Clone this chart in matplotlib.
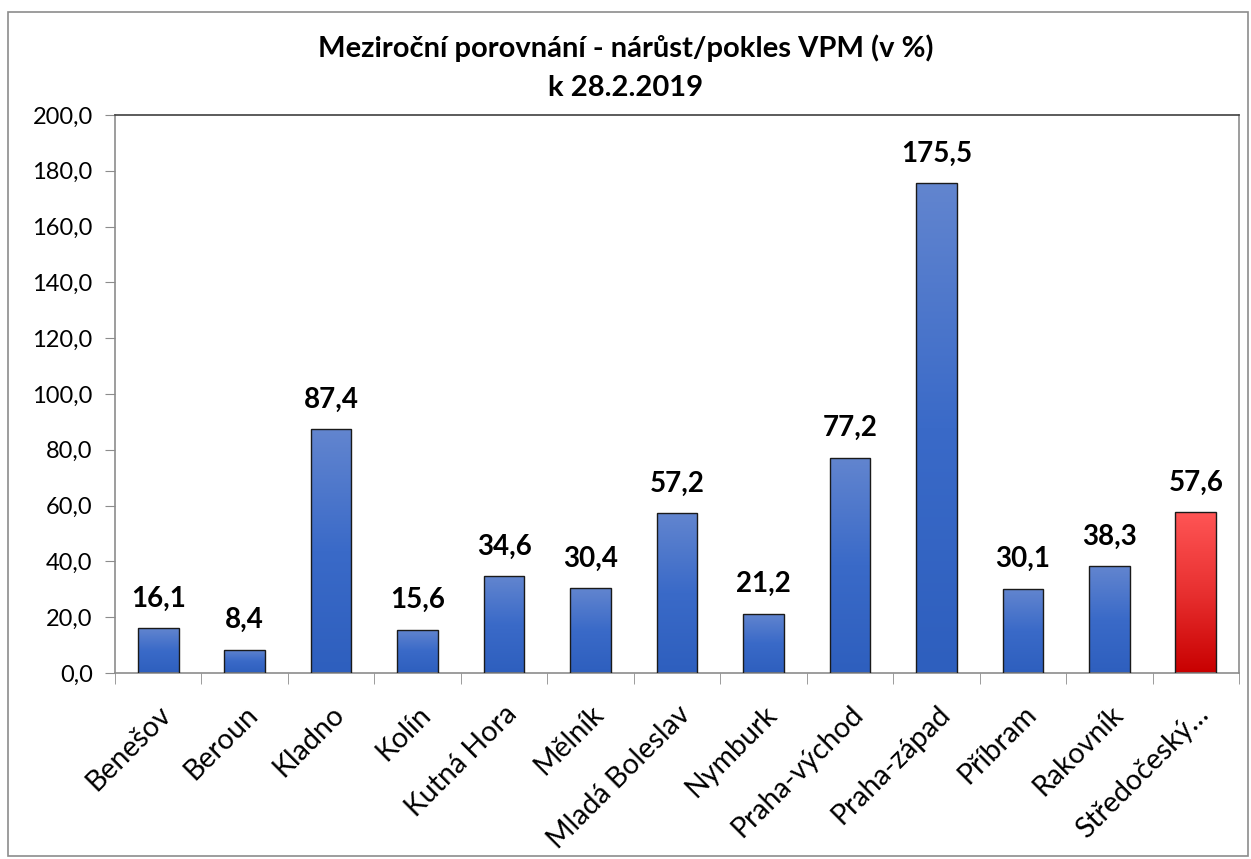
import matplotlib
matplotlib.use("Agg")
import matplotlib.pyplot as plt
import numpy as np
from matplotlib.patches import Rectangle
from matplotlib.colors import LinearSegmentedColormap

categories = ["Benešov", "Beroun", "Kladno", "Kolín", "Kutná Hora", "Mělník",
              "Mladá Boleslav", "Nymburk", "Praha-východ", "Praha-západ",
              "Příbram", "Rakovník", "Středočeský…"]
values = [16.1, 8.4, 87.4, 15.6, 34.6, 30.4, 57.2, 21.2, 77.2, 175.5, 30.1, 38.3, 57.6]
yticks = [0, 20, 40, 60, 80, 100, 120, 140, 160, 180, 200]

plt.rcParams['font.family'] = ['Lato', 'DejaVu Sans']

fig = plt.figure(figsize=(12.51, 8.59), dpi=100)
ax = fig.add_axes([0.0919, 0.2165, 0.8985, 0.6496])

W, H = 1251, 859
fig.patches.append(Rectangle((8 / W, 1 - 856 / H), (1248 - 8) / W, (856 - 12) / H,
                             transform=fig.transFigure, fill=False,
                             edgecolor="#8c8c8c", linewidth=1.2))

blue_cmap = LinearSegmentedColormap.from_list("b", ["#2e5fbe", "#3a6ac8", "#6285cf"])
red_cmap = LinearSegmentedColormap.from_list("r", ["#c80000", "#e83030", "#ff5555"])

x = np.arange(len(categories))
bars = ax.bar(x, values, width=0.47, facecolor="none", edgecolor="#1a1a1a",
              linewidth=1.0, zorder=3)
grad = np.linspace(0, 1, 256).reshape(-1, 1)
for i, b in enumerate(bars):
    cmap = red_cmap if i == len(bars) - 1 else blue_cmap
    x0, y0 = b.get_x(), b.get_y()
    im = ax.imshow(grad, cmap=cmap, aspect="auto", origin="lower",
                   extent=[x0, x0 + b.get_width(), y0, y0 + b.get_height()],
                   zorder=2)
    im.set_clip_path(b)
    ax.text(b.get_x() + b.get_width() / 2, values[i] + 6,
            f"{values[i]:.1f}".replace(".", ","), ha="center", va="bottom",
            fontsize=20, fontweight="bold", color="black", zorder=4)

ax.set_xlim(-0.5, len(categories) - 0.5)
ax.set_ylim(0, 200)
ax.set_yticks(yticks)
ax.set_yticklabels([f"{v:.1f}".replace(".", ",") for v in yticks], fontsize=17)
ax.set_xticks(x)
ax.set_xticklabels(categories, rotation=45, ha="right", rotation_mode="anchor",
                   fontsize=20.5)
ax.tick_params(axis="x", which="major", length=0, pad=20)
ax.set_xticks(np.arange(-0.5, len(categories), 1), minor=True)
ax.tick_params(axis="x", which="minor", length=8, color="#8c8c8c", direction="out")
ax.tick_params(axis="y", length=7, color="#8c8c8c", direction="out", pad=9)
for s in ax.spines.values():
    s.set_color("#8c8c8c")
    s.set_linewidth(1.2)
ax.spines["top"].set_color("#404040")

fig.text(0.5, 1 - 48 / H, "Meziroční porovnání - nárůst/pokles VPM (v %)",
         ha="center", va="center", fontsize=21, fontweight="bold")
fig.text(0.5, 1 - 88 / H, "k 28.2.2019", ha="center", va="center",
         fontsize=21, fontweight="bold")

fig.savefig("out.png", dpi=100)
